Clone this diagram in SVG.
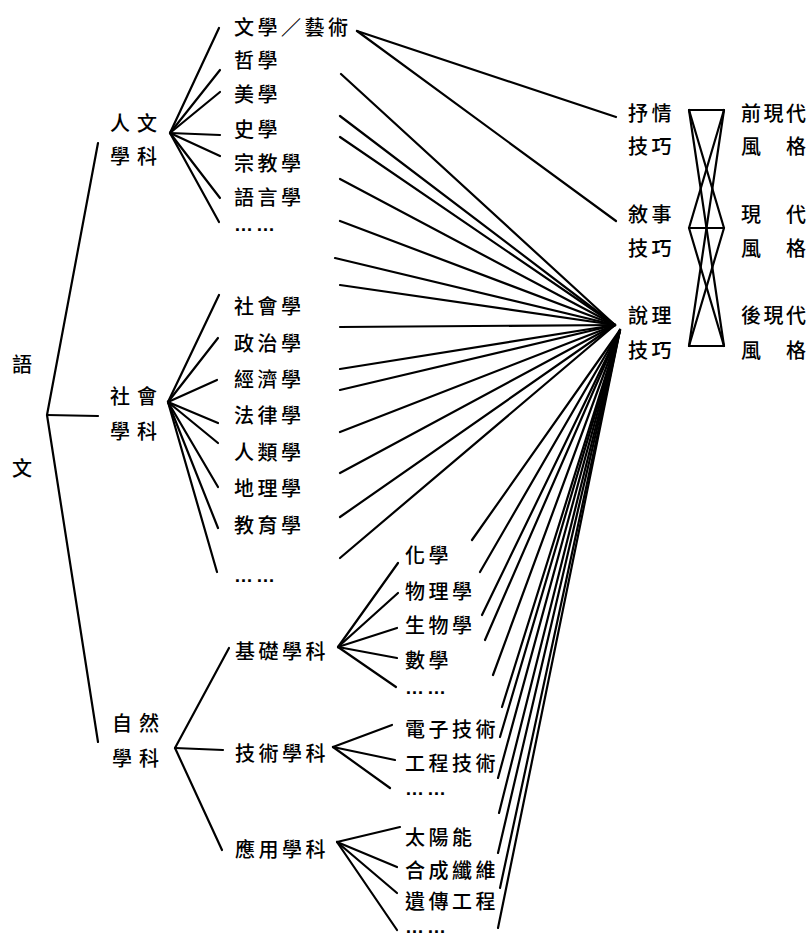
<svg xmlns="http://www.w3.org/2000/svg" width="811" height="937" viewBox="0 0 811 937">
<style>
text{font-family:"Noto Sans CJK TC","Noto Sans CJK SC",sans-serif;font-size:20px;fill:#000;dominant-baseline:central;letter-spacing:3.5px;font-weight:500}
.w{letter-spacing:7px}
.r{letter-spacing:2.5px}
text.d{font-family:"Liberation Sans",sans-serif;font-size:19px;dominant-baseline:auto;letter-spacing:3px;font-weight:bold}
line{stroke:#000;stroke-width:2.2;fill:none;stroke-linecap:round}
</style>
<rect width="811" height="937" fill="#fff"/>
<g id="connectors">
<line x1="47" y1="415" x2="98" y2="143"/>
<line x1="47" y1="415" x2="98" y2="416"/>
<line x1="47" y1="415" x2="98" y2="742"/>
<line x1="170" y1="133" x2="219" y2="28"/>
<line x1="170" y1="133" x2="220" y2="70"/>
<line x1="170" y1="133" x2="220" y2="92"/>
<line x1="170" y1="133" x2="220" y2="135"/>
<line x1="170" y1="133" x2="220" y2="156"/>
<line x1="170" y1="133" x2="220" y2="198"/>
<line x1="170" y1="133" x2="219" y2="222"/>
<line x1="168" y1="402" x2="219" y2="295"/>
<line x1="168" y1="402" x2="218" y2="338"/>
<line x1="168" y1="402" x2="217" y2="380"/>
<line x1="168" y1="402" x2="218" y2="423"/>
<line x1="168" y1="402" x2="218" y2="443"/>
<line x1="168" y1="402" x2="218" y2="487"/>
<line x1="168" y1="402" x2="218" y2="528"/>
<line x1="168" y1="402" x2="217" y2="572"/>
<line x1="175" y1="748" x2="229" y2="648"/>
<line x1="175" y1="748" x2="223" y2="750"/>
<line x1="175" y1="748" x2="222" y2="850"/>
<line x1="338" y1="647" x2="398" y2="563"/>
<line x1="338" y1="647" x2="398" y2="593"/>
<line x1="338" y1="647" x2="397" y2="628"/>
<line x1="338" y1="647" x2="397" y2="658"/>
<line x1="338" y1="647" x2="396" y2="687"/>
<line x1="333" y1="747" x2="392" y2="725"/>
<line x1="333" y1="747" x2="395" y2="760"/>
<line x1="333" y1="747" x2="390" y2="788"/>
<line x1="337" y1="842" x2="400" y2="827"/>
<line x1="337" y1="842" x2="397" y2="867"/>
<line x1="337" y1="842" x2="397" y2="893"/>
<line x1="337" y1="842" x2="397" y2="930"/>
<line x1="357" y1="31" x2="616" y2="117"/>
<line x1="357" y1="31" x2="616" y2="221"/>
<line x1="341" y1="74" x2="615" y2="325"/>
<line x1="340" y1="116" x2="615" y2="325"/>
<line x1="340" y1="137" x2="615" y2="325"/>
<line x1="340" y1="179" x2="615" y2="325"/>
<line x1="340" y1="221" x2="615" y2="325"/>
<line x1="335" y1="258" x2="615" y2="325"/>
<line x1="340" y1="285" x2="615" y2="325"/>
<line x1="340" y1="327" x2="615" y2="325"/>
<line x1="340" y1="369" x2="615" y2="325"/>
<line x1="340" y1="390" x2="615" y2="325"/>
<line x1="340" y1="432" x2="615" y2="325"/>
<line x1="340" y1="473" x2="615" y2="325"/>
<line x1="340" y1="517" x2="615" y2="325"/>
<line x1="340" y1="558" x2="615" y2="325"/>
<line x1="472" y1="540" x2="620" y2="330"/>
<line x1="480" y1="572" x2="620" y2="330"/>
<line x1="482" y1="615" x2="620" y2="330"/>
<line x1="485" y1="640" x2="620" y2="330"/>
<line x1="493" y1="675" x2="620" y2="330"/>
<line x1="502" y1="707" x2="620" y2="330"/>
<line x1="500" y1="737" x2="620" y2="330"/>
<line x1="498" y1="778" x2="620" y2="330"/>
<line x1="499" y1="813" x2="620" y2="330"/>
<line x1="498" y1="853" x2="620" y2="330"/>
<line x1="500" y1="888" x2="620" y2="330"/>
<line x1="498" y1="928" x2="620" y2="330"/>
<line x1="689" y1="110" x2="724" y2="110"/>
<line x1="689" y1="228" x2="724" y2="228"/>
<line x1="689" y1="346" x2="724" y2="346"/>
<line x1="689" y1="110" x2="724" y2="228"/>
<line x1="724" y1="110" x2="689" y2="228"/>
<line x1="689" y1="228" x2="724" y2="346"/>
<line x1="724" y1="228" x2="689" y2="346"/>
<line x1="689" y1="110" x2="724" y2="346"/>
<line x1="724" y1="110" x2="689" y2="346"/>
</g>
<g id="root"><text x="12" y="363">語</text><text x="12" y="467">文</text></g>
<g id="humanities"><text class="w" x="110" y="122">人文</text><text class="w" x="110" y="155">學科</text></g>
<g id="h1"><text x="234" y="26">文學／藝術</text></g>
<g id="h2"><text x="234" y="59">哲學</text></g>
<g id="h3"><text x="234" y="93">美學</text></g>
<g id="h4"><text x="234" y="128">史學</text></g>
<g id="h5"><text x="234" y="162">宗教學</text></g>
<g id="h6"><text x="234" y="196">語言學</text></g>
<g id="h7"><text class="d" x="234" y="231">……</text></g>
<g id="social"><text class="w" x="110" y="395">社會</text><text class="w" x="110" y="430">學科</text></g>
<g id="s1"><text x="234" y="305">社會學</text></g>
<g id="s2"><text x="234" y="342">政治學</text></g>
<g id="s3"><text x="234" y="378">經濟學</text></g>
<g id="s4"><text x="234" y="414">法律學</text></g>
<g id="s5"><text x="234" y="451">人類學</text></g>
<g id="s6"><text x="234" y="487">地理學</text></g>
<g id="s7"><text x="234" y="524">教育學</text></g>
<g id="s8"><text class="d" x="234" y="582">……</text></g>
<g id="natural"><text class="w" x="112" y="722">自然</text><text class="w" x="112" y="757">學科</text></g>
<g id="basic"><text x="235" y="650">基礎學科</text></g>
<g id="b1"><text x="405" y="554">化學</text></g>
<g id="b2"><text x="405" y="590">物理學</text></g>
<g id="b3"><text x="405" y="624">生物學</text></g>
<g id="b4"><text x="405" y="659">數學</text></g>
<g id="b5"><text class="d" x="405" y="694">……</text></g>
<g id="tech"><text x="235" y="752">技術學科</text></g>
<g id="t1"><text x="405" y="728">電子技術</text></g>
<g id="t2"><text x="405" y="762">工程技術</text></g>
<g id="t3"><text class="d" x="405" y="795">……</text></g>
<g id="applied"><text x="235" y="848">應用學科</text></g>
<g id="a1"><text x="405" y="836">太陽能</text></g>
<g id="a2"><text x="405" y="869">合成纖維</text></g>
<g id="a3"><text x="405" y="900">遺傳工程</text></g>
<g id="a4"><text class="d" x="405" y="932.5">……</text></g>
<g id="lyric"><text x="628" y="112">抒情</text><text x="628" y="145">技巧</text></g>
<g id="narrative"><text x="628" y="213">敘事</text><text x="628" y="247">技巧</text></g>
<g id="argument"><text x="628" y="314">說理</text><text x="628" y="349">技巧</text></g>
<g id="premodern"><text class="r" x="741" y="112">前現代</text><text class="r" x="741" y="145">風　格</text></g>
<g id="modern"><text class="r" x="741" y="213">現　代</text><text class="r" x="741" y="247">風　格</text></g>
<g id="postmodern"><text class="r" x="741" y="314">後現代</text><text class="r" x="741" y="349">風　格</text></g>
</svg>
